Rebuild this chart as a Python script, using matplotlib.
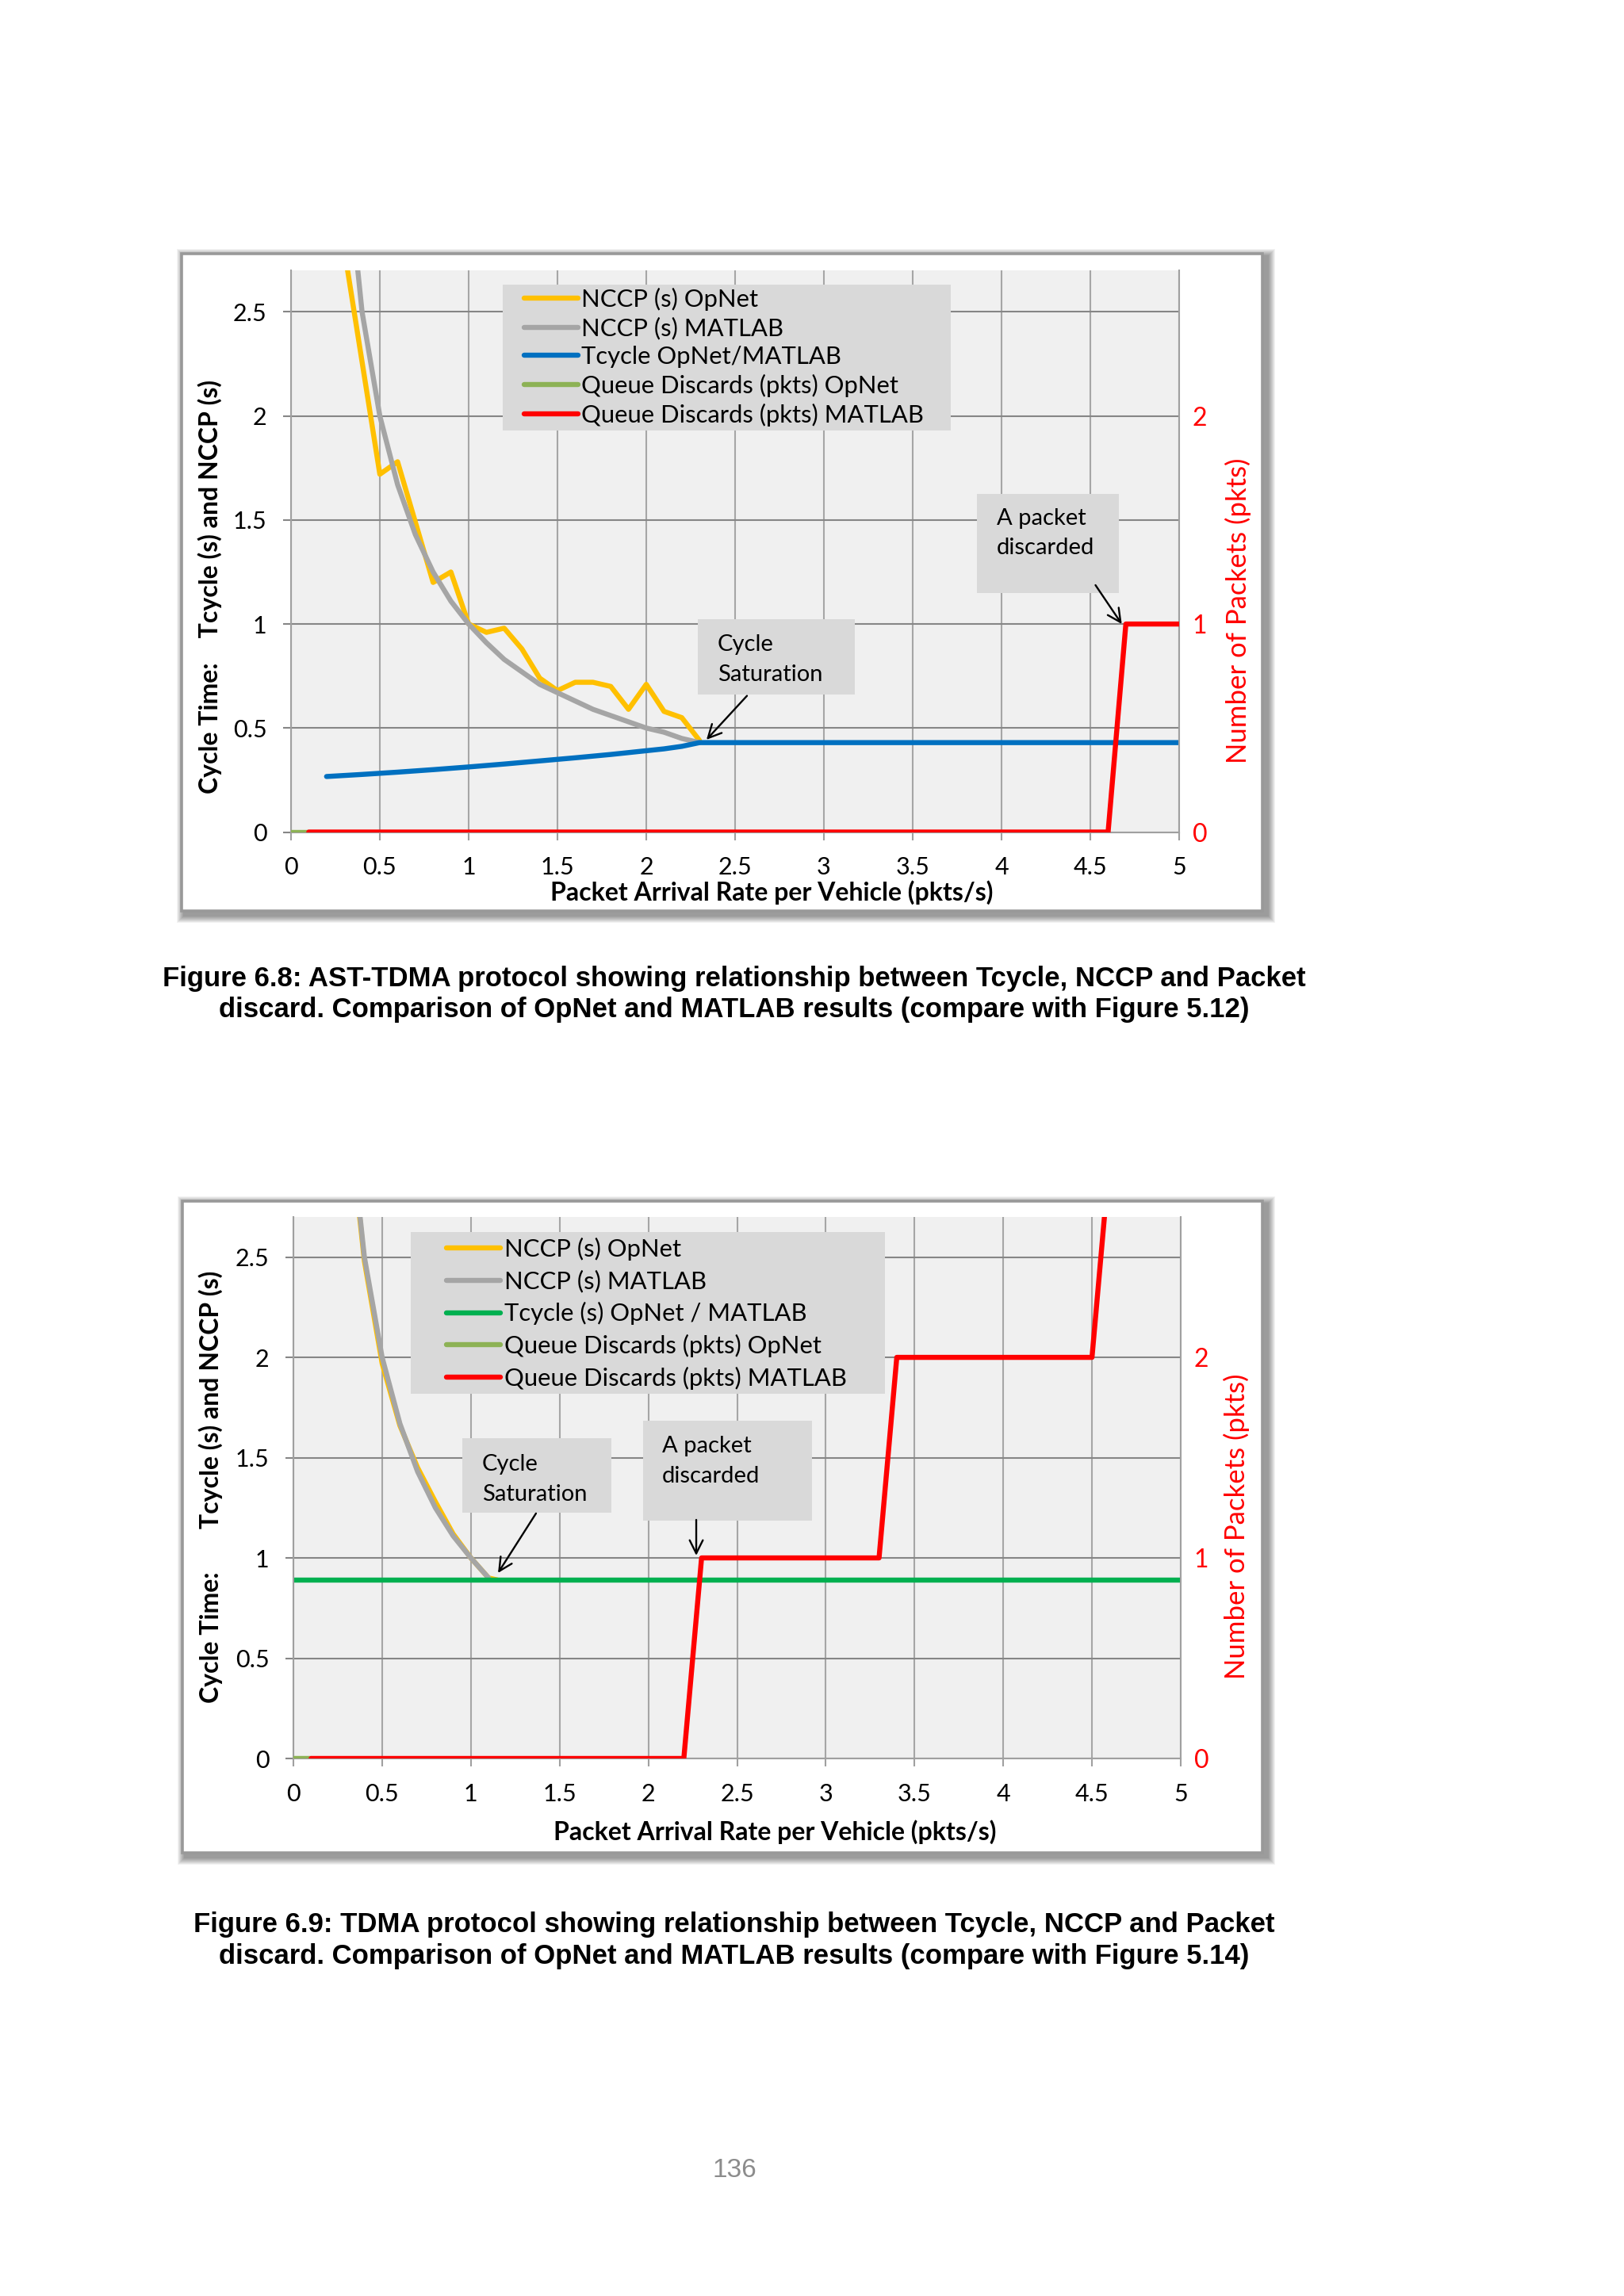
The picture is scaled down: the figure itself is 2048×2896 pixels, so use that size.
import matplotlib
matplotlib.use("Agg")
import matplotlib.pyplot as plt
from matplotlib.patches import Rectangle
from matplotlib.ticker import FuncFormatter

W, H = 2048, 2896

# ---------- Figure 6.8 (AST-TDMA) ----------
nccp_x_1 = [0.3, 0.4, 0.5, 0.6, 0.7, 0.8, 0.9, 1.0, 1.1, 1.2, 1.3,
            1.4, 1.5, 1.6, 1.7, 1.8, 1.9, 2.0, 2.1, 2.2, 2.3]
nccp_opnet_1 = [2.8, 2.26, 1.72, 1.78, 1.49, 1.20, 1.25, 1.0, 0.96, 0.98, 0.88,
                0.74, 0.68, 0.72, 0.72, 0.70, 0.59, 0.71, 0.58, 0.55, 0.44]
nccp_matlab_1 = [3.33, 2.5, 2.0, 1.67, 1.43, 1.25, 1.11, 1.0, 0.91, 0.83, 0.77,
                 0.71, 0.67, 0.63, 0.59, 0.56, 0.53, 0.5, 0.48, 0.45, 0.43]
tcycle_x_1 = [0.2, 0.4, 0.6, 0.8, 1.0, 1.2, 1.4, 1.6, 1.8, 2.0, 2.1, 2.2, 2.3, 5.0]
tcycle_1 = [0.267, 0.277, 0.288, 0.300, 0.313, 0.327, 0.342, 0.357, 0.373,
            0.391, 0.400, 0.412, 0.43, 0.43]
disc_opnet_x_1 = [0.0, 0.1]
disc_opnet_1 = [0, 0]
disc_matlab_x_1 = [0.1, 4.6, 4.7, 5.0]
disc_matlab_1 = [0, 0, 1, 1]

# ---------- Figure 6.9 (TDMA) ----------
nccp_opnet_x_2 = [0.3, 0.4, 0.5, 0.6, 0.7, 0.8, 0.9, 1.0, 1.1, 1.15]
nccp_opnet_2 = [3.3, 2.48, 1.97, 1.66, 1.45, 1.28, 1.12, 1.0, 0.90, 0.89]
nccp_matlab_x_2 = [0.3, 0.4, 0.5, 0.6, 0.7, 0.8, 0.9, 1.0, 1.1]
nccp_matlab_2 = [3.33, 2.5, 2.0, 1.67, 1.43, 1.25, 1.11, 1.0, 0.90]
tcycle_x_2 = [0.0, 5.0]
tcycle_2 = [0.89, 0.89]
disc_opnet_x_2 = [0.0, 0.1]
disc_opnet_2 = [0, 0]
disc_matlab_x_2 = [0.1, 2.2, 2.3, 3.3, 3.4, 4.5, 4.6, 5.0]
disc_matlab_2 = [0, 0, 1, 1, 2, 2, 3, 3]

x_ticks = [0, 0.5, 1, 1.5, 2, 2.5, 3, 3.5, 4, 4.5, 5]
y_ticks = [0, 0.5, 1, 1.5, 2, 2.5]
pkt_ticks = [0, 1, 2]

YELLOW, GRAY, BLUE = "#FFC000", "#A5A5A5", "#0070C0"
GREEN_T, GREEN_Q, RED = "#00B050", "#8DB255", "#FF0000"

plt.rcParams["font.family"] = "Lato"

fig = plt.figure(figsize=(W / 100, H / 100), dpi=100)
fig.patch.set_facecolor("white")


def px_rect(x0, y0, x1, y1):
    return [x0 / W, 1 - y1 / H, (x1 - x0) / W, (y1 - y0) / H]


def draw_frame(x0, y0, x1, y1):
    # soft drop shadow, then the white chart area with grey border
    for k in range(9):
        r = px_rect(x0 + 2 - k, y0 + 2 - k, x1 + 8 + k, y1 + 7 + k)
        fig.add_artist(Rectangle((r[0], r[1]), r[2], r[3], transform=fig.transFigure,
                                 facecolor="black", edgecolor="none", alpha=0.05, zorder=-10))
    r = px_rect(x0, y0, x1, y1)
    fig.add_artist(Rectangle((r[0], r[1]), r[2], r[3], transform=fig.transFigure,
                             facecolor="white", edgecolor="#999999", linewidth=2.6, zorder=-5))


def fmt(v, pos):
    return "%g" % v


def draw_chart(ax_px, frame_px, nccp_o, nccp_m, tcyc, tcyc_label, tcyc_color,
               disc_o, disc_m, leg):
    draw_frame(*frame_px)
    ax = fig.add_axes(px_rect(*ax_px))
    ax.set_facecolor("#F0F0F0")
    ax.set_xlim(0, 5)
    ax.set_ylim(0, 2.7)
    ax.set_xticks(x_ticks)
    ax.set_yticks(y_ticks)
    ax.xaxis.set_major_formatter(FuncFormatter(fmt))
    ax.yaxis.set_major_formatter(FuncFormatter(fmt))
    ax.grid(axis="x", color="#A6A6A6", linewidth=1.5)
    ax.grid(axis="y", color="#868686", linewidth=1.5)
    ax.set_axisbelow(True)
    for s in ["left", "bottom", "right"]:
        ax.spines[s].set_color("#A0A0A0")
        ax.spines[s].set_linewidth(1.5)
    ax.spines["top"].set_visible(False)
    ax.tick_params(axis="x", direction="out", length=7, width=1.5, color="#A0A0A0",
                   labelsize=22, pad=15)
    ax.tick_params(axis="y", direction="out", length=7, width=1.5, color="#868686",
                   labelsize=22, pad=15)

    lw = 4.6
    h1, = ax.plot(nccp_o[0], nccp_o[1], color=YELLOW, lw=lw, solid_capstyle="round",
                  solid_joinstyle="round", label="NCCP (s) OpNet")
    h2, = ax.plot(nccp_m[0], nccp_m[1], color=GRAY, lw=lw, solid_capstyle="round",
                  label="NCCP (s) MATLAB")
    h3, = ax.plot(tcyc[0], tcyc[1], color=tcyc_color, lw=lw, solid_capstyle="round",
                  label=tcyc_label)

    ax2 = ax.twinx()
    ax2.set_ylim(0, 2.7)
    ax2.set_yticks(pkt_ticks)
    ax2.yaxis.set_major_formatter(FuncFormatter(fmt))
    ax2.tick_params(axis="y", length=0, labelsize=23, labelcolor=RED, pad=12)
    for s in ax2.spines.values():
        s.set_visible(False)
    h4, = ax2.plot(disc_o[0], disc_o[1], color=GREEN_Q, lw=lw, solid_capstyle="round",
                   label="Queue Discards (pkts) OpNet")
    h5, = ax2.plot(disc_m[0], disc_m[1], color=RED, lw=lw, solid_capstyle="round",
                   label="Queue Discards (pkts) MATLAB")

    ax.set_xlabel("Packet Arrival Rate per Vehicle (pkts/s)", fontsize=23, fontweight="bold")
    ax.xaxis.set_label_coords(leg["xlab"][0], leg["xlab"][1])
    ax.set_ylabel(leg["ylab_text"], fontsize=23, fontweight="bold")
    ax.yaxis.set_label_coords(leg["ylab"][0], leg["ylab"][1])
    ax2.set_ylabel("Number of Packets (pkts)", fontsize=25, color=RED, rotation=90)
    ax2.yaxis.set_label_coords(leg["rlab"][0], leg["rlab"][1])

    bx = leg["box"]
    ax2.add_patch(Rectangle((bx[0], bx[1]), bx[2] - bx[0], bx[3] - bx[1],
                            transform=ax2.transAxes, facecolor="#D9D9D9",
                            edgecolor="none", zorder=4))
    lg = ax2.legend(handles=[h1, h2, h3, h4, h5], loc="upper left",
                    bbox_to_anchor=leg["anchor"], bbox_transform=ax2.transAxes,
                    frameon=False, fontsize=22.3, handlelength=2.2, handletextpad=0.14,
                    labelspacing=leg["spacing"], borderpad=0, borderaxespad=0)
    lg.set_zorder(5)
    return ax, ax2


def callout(ax, box, text_xy, lines, tail, head):
    ax.add_patch(Rectangle((box[0], box[1]), box[2] - box[0], box[3] - box[1],
                           facecolor="#D9D9D9", edgecolor="none", zorder=4))
    for (tx, ty), s in zip(text_xy, lines):
        ax.text(tx, ty, s, fontsize=21, ha="left", va="center", zorder=5)
    ax.annotate("", xy=head, xytext=tail, zorder=6,
                arrowprops=dict(arrowstyle="->", color="black", lw=1.7,
                                mutation_scale=30, shrinkA=0, shrinkB=0))


# ----- chart 1 -----
ax, ax2 = draw_chart(
    (367, 341, 1487, 1049.5), (229, 320, 1592, 1149),
    (nccp_x_1, nccp_opnet_1), (nccp_x_1, nccp_matlab_1),
    (tcycle_x_1, tcycle_1), "Tcycle OpNet/MATLAB", BLUE,
    (disc_opnet_x_1, disc_opnet_1), (disc_matlab_x_1, disc_matlab_1),
    dict(box=(0.238, 0.715, 0.743, 0.975), anchor=(0.2625, 0.969), spacing=0.25,
         xlab=(0.541, -0.086), ylab=(-0.078, 0.4375), rlab=(1.052, 0.3945),
         ylab_text="Cycle Time:    Tcycle (s) and NCCP (s)"))
callout(ax2, (2.289, 0.660, 3.176, 1.025), [(2.40, 0.901), (2.40, 0.757)],
        ["Cycle", "Saturation"], (2.567, 0.655), (2.339, 0.444))
callout(ax2, (3.862, 1.149, 4.660, 1.627), [(3.973, 1.506), (3.973, 1.365)],
        ["A packet", "discarded"], (4.529, 1.187), (4.677, 1.0))

# ----- chart 2 -----
ax, ax2 = draw_chart(
    (370, 1535, 1489, 2218), (230, 1515, 1592, 2337),
    (nccp_opnet_x_2, nccp_opnet_2), (nccp_matlab_x_2, nccp_matlab_2),
    (tcycle_x_2, tcycle_2), "Tcycle (s) OpNet / MATLAB", GREEN_T,
    (disc_opnet_x_2, disc_opnet_2), (disc_matlab_x_2, disc_matlab_2),
    dict(box=(0.132, 0.674, 0.667, 0.972), anchor=(0.1725, 0.962), spacing=0.38,
         xlab=(0.543, -0.113), ylab=(-0.0795, 0.502), rlab=(1.048, 0.429),
         ylab_text="Cycle Time:       Tcycle (s) and NCCP (s)"))
callout(ax2, (0.952, 1.227, 1.790, 1.597), [(1.063, 1.467), (1.063, 1.316)],
        ["Cycle", "Saturation"], (1.367, 1.222), (1.153, 0.925))
callout(ax2, (1.970, 1.184, 2.922, 1.686), [(2.078, 1.558), (2.078, 1.409)],
        ["A packet", "discarded"], (2.270, 1.190), (2.270, 1.012))

# ----- captions and page number -----
cap = dict(fontsize=25, fontweight="bold", family="Liberation Sans", ha="center", va="center")
fig.text(926 / W, 1 - 1234 / H,
         "Figure 6.8: AST-TDMA protocol showing relationship between Tcycle, NCCP and Packet", **cap)
fig.text(926 / W, 1 - 1273 / H,
         "discard. Comparison of OpNet and MATLAB results (compare with Figure 5.12)", **cap)
fig.text(926 / W, 1 - 2427 / H,
         "Figure 6.9: TDMA protocol showing relationship between Tcycle, NCCP and Packet", **cap)
fig.text(926 / W, 1 - 2467 / H,
         "discard. Comparison of OpNet and MATLAB results (compare with Figure 5.14)", **cap)
fig.text(926 / W, 1 - 2738 / H, "136", fontsize=24, family="Liberation Sans",
         color="#8C8C8C", ha="center", va="center")

fig.savefig("out.png", dpi=100)
